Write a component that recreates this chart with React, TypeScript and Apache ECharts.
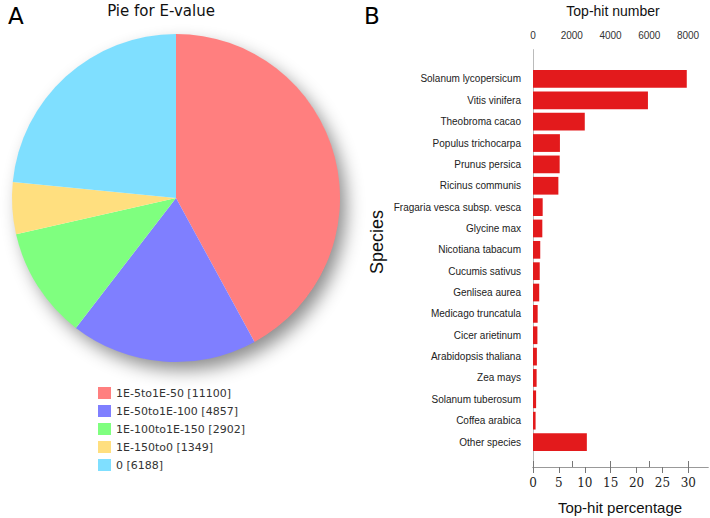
import React, { useEffect, useRef } from "react";
import * as echarts from "echarts";

const pieNames = ["1E-5to1E-50", "1E-50to1E-100", "1E-100to1E-150", "1E-150to0", "0"];
const pieValues = [11100, 4857, 2902, 1349, 6188];
const pieColors = ["#FF7F7F", "#7F7FFF", "#7FFF7F", "#FFDF7F", "#7FDFFF"];

const species = [
  "Solanum lycopersicum",
  "Vitis vinifera",
  "Theobroma cacao",
  "Populus trichocarpa",
  "Prunus persica",
  "Ricinus communis",
  "Fragaria vesca subsp. vesca",
  "Glycine max",
  "Nicotiana tabacum",
  "Cucumis sativus",
  "Genlisea aurea",
  "Medicago truncatula",
  "Cicer arietinum",
  "Arabidopsis thaliana",
  "Zea mays",
  "Solanum tuberosum",
  "Coffea arabica",
  "Other species",
];
const percentages = [29.7, 22.2, 10.0, 5.2, 5.15, 4.9, 1.87, 1.8, 1.4, 1.3, 1.2, 0.9, 0.85, 0.75, 0.7, 0.6, 0.5, 10.4];
const hitTicks = [0, 2000, 4000, 6000, 8000];
const pctTicks = [0, 5, 10, 15, 20, 25, 30];

const HIT_MAX = 9032;
const PCT_MAX = 33.8;

export default function App() {
  const ref = useRef<HTMLDivElement>(null);
  useEffect(() => {
    if (!ref.current) return;
    document.body.style.margin = "0";
    const chart = echarts.init(ref.current, null, { renderer: "svg" });
    const legendMap: Record<string, number> = {};
    pieNames.forEach((n, i) => (legendMap[n] = pieValues[i]));
    chart.setOption({
      animation: false,
      backgroundColor: "#ffffff",
      graphic: [
        {
          type: "circle",
          z: 0,
          silent: true,
          shape: { cx: 176, cy: 198, r: 163 },
          style: {
            fill: "#ffffff",
            shadowBlur: 18,
            shadowOffsetX: 7,
            shadowOffsetY: 9,
            shadowColor: "rgba(0,0,0,0.45)",
          },
        },
        { type: "text", left: 8, top: 4, style: { text: "A", font: "23px 'DejaVu Sans'", fill: "#000" } },
        { type: "text", left: 364, top: 4, style: { text: "B", font: "23px 'DejaVu Sans'", fill: "#000" } },
        {
          type: "text",
          x: 161,
          y: 11,
          style: { text: "Pie for E-value", font: "15px 'DejaVu Sans'", fill: "#111", align: "center", verticalAlign: "middle" },
        },
        {
          type: "text",
          x: 613,
          y: 11,
          style: { text: "Top-hit number", font: "14px 'Liberation Sans'", fill: "#111", align: "center", verticalAlign: "middle" },
        },
        {
          type: "text",
          x: 620,
          y: 507,
          style: { text: "Top-hit percentage", font: "15px 'Liberation Sans'", fill: "#111", align: "center", verticalAlign: "middle" },
        },
        {
          type: "text",
          x: 377,
          y: 242,
          rotation: Math.PI / 2,
          style: { text: "Species", font: "18px 'Liberation Sans'", fill: "#111", align: "center", verticalAlign: "middle" },
        },
      ],
      legend: {
        data: pieNames,
        orient: "vertical",
        left: 93,
        top: 382,
        icon: "rect",
        itemWidth: 13,
        itemHeight: 12,
        itemGap: 6,
        selectedMode: false,
        formatter: (name: string) => `${name} [${legendMap[name]}]`,
        textStyle: { fontSize: 11, color: "#333", fontFamily: "DejaVu Sans" },
      },
      grid: [
        { left: 533, top: 50, width: 175, height: 417, containLabel: false },
        { left: 533, top: 68.3, width: 175, height: 384.4, containLabel: false },
      ],
      xAxis: [
        {
          gridIndex: 0,
          type: "value",
          position: "top",
          min: 0,
          max: HIT_MAX,
          axisLine: { show: true, lineStyle: { color: "#888", width: 1 } },
          axisTick: { show: true, length: 6, customValues: hitTicks, lineStyle: { color: "#777" } },
          axisLabel: {
            customValues: hitTicks,
            margin: 10,
            fontSize: 10,
            color: "#333",
            fontFamily: "Liberation Sans",
            formatter: (v: number) => String(v),
          },
          splitLine: { show: false },
        },
        {
          gridIndex: 0,
          type: "value",
          position: "bottom",
          min: 0,
          max: PCT_MAX,
          axisLine: { show: true, lineStyle: { color: "#999", width: 1 } },
          axisTick: { show: true, length: 6, customValues: pctTicks, lineStyle: { color: "#777" } },
          axisLabel: {
            customValues: pctTicks,
            margin: 10,
            fontSize: 12,
            color: "#222",
            fontFamily: "DejaVu Serif",
            formatter: (v: number) => String(v),
          },
          splitLine: { show: false },
        },
        {
          gridIndex: 1,
          type: "value",
          min: 0,
          max: PCT_MAX,
          show: false,
        },
      ],
      yAxis: [
        {
          gridIndex: 0,
          type: "value",
          position: "left",
          min: 0,
          max: 1,
          axisLine: { show: true, lineStyle: { color: "#999", width: 1 } },
          axisTick: { show: false },
          axisLabel: { show: false },
          splitLine: { show: false },
        },
        {
          gridIndex: 0,
          type: "value",
          position: "right",
          min: 0,
          max: 1,
          axisLine: { show: true, lineStyle: { color: "#bbb", width: 1 } },
          axisTick: { show: false },
          axisLabel: { show: false },
          splitLine: { show: false },
        },
        {
          gridIndex: 1,
          type: "category",
          inverse: true,
          data: species,
          axisLine: { show: false },
          axisTick: { show: false },
          axisLabel: { margin: 12, fontSize: 10, color: "#222", fontFamily: "Liberation Sans" },
          splitLine: { show: false },
        },
      ],
      series: [
        {
          type: "pie",
          center: [176, 198],
          radius: 164,
          startAngle: 90,
          clockwise: true,
          z: 3,
          label: { show: false },
          labelLine: { show: false },
          itemStyle: { borderWidth: 0 },
          data: pieNames.map((n, i) => ({ name: n, value: pieValues[i], itemStyle: { color: pieColors[i] } })),
        },
        {
          type: "bar",
          xAxisIndex: 2,
          yAxisIndex: 2,
          data: percentages,
          barWidth: "83%",
          itemStyle: { color: "#E31A1C" },
        },
      ],
    });
    return () => chart.dispose();
  }, []);
  return <div ref={ref} style={{ width: 710, height: 518 }} />;
}
